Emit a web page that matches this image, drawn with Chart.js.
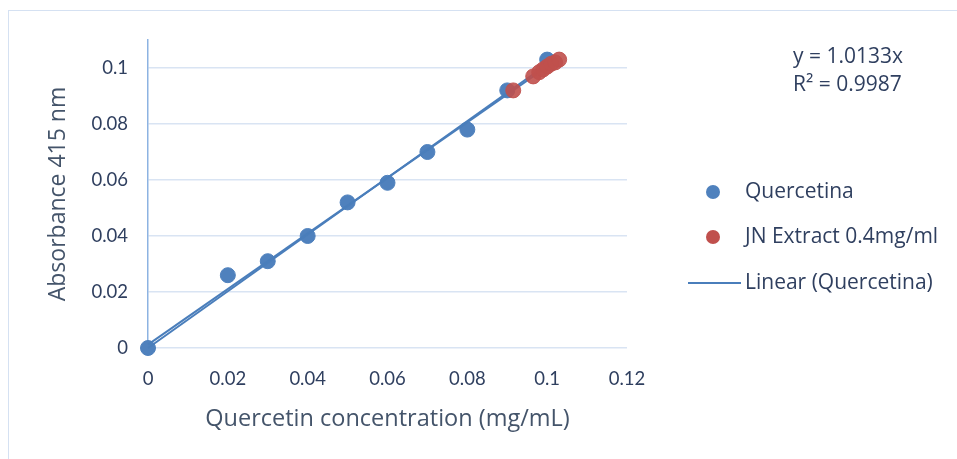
<!DOCTYPE html>
<html>
<head>
<meta charset="utf-8">
<script src="https://cdn.jsdelivr.net/npm/chart.js@4.4.1/dist/chart.umd.min.js"></script>
<style>
  html, body { margin: 0; padding: 0; background: #fff; }
  #wrap { width: 957px; height: 459px; }
</style>
</head>
<body>
<div id="wrap"><canvas id="chart" width="957" height="459"></canvas></div>
<script>
// Quercetina standard curve
var querX = [0, 0.02, 0.03, 0.04, 0.05, 0.06, 0.07, 0.08, 0.09, 0.1];
var querY = [0, 0.026, 0.031, 0.040, 0.052, 0.059, 0.070, 0.078, 0.092, 0.103];
// JN extract samples
var extX = [0.0915, 0.0965, 0.098, 0.099, 0.1, 0.101, 0.102, 0.103];
var extY = [0.092, 0.097, 0.0985, 0.0995, 0.1005, 0.1015, 0.102, 0.103];
// trendline y = 1.0133x over the standard's x range
var slope = 1.0133;
var trendX = [0, 0.1];
// second (unlabelled) fitted line
var line2X = [0, 0.1];
var line2Y = [0.0012, 0.1005];
var xTicks = [0, 0.02, 0.04, 0.06, 0.08, 0.1, 0.12];
var yTicks = [0, 0.02, 0.04, 0.06, 0.08, 0.1];

var textCol = "#2f3f5f";
var FONT = "Lato, 'Open Sans', sans-serif";
var TFONT = "'Open Sans', Lato, sans-serif";

function pts(xs, ys) {
  return xs.map(function (x, i) { return { x: x, y: ys[i] }; });
}

var decor = {
  id: "decor",
  beforeDraw: function (chart) {
    var c = chart.ctx;
    c.save();
    c.strokeStyle = "#d5e1f2";
    c.lineWidth = 1;
    c.strokeRect(8.5, 10.5, 1000, 500);
    c.restore();
  },
  afterDraw: function (chart) {
    var c = chart.ctx;
    c.save();
    c.fillStyle = textCol;
    c.textBaseline = "middle";
    c.textAlign = "left";
    c.font = "21px " + TFONT;
    c.fillText("y = 1.0133x", 793, 57);
    c.fillText("R² = 0.9987", 793, 85);

    // legend
    c.font = "21px " + TFONT;
    var items = [
      { t: "Quercetina", col: "#4f81bd", y: 192 },
      { t: "JN Extract 0.4mg/ml", col: "#c0504d", y: 237 }
    ];
    items.forEach(function (it) {
      c.beginPath();
      c.fillStyle = it.col;
      c.arc(713, it.y, 7, 0, Math.PI * 2);
      c.fill();
      c.fillStyle = textCol;
      c.fillText(it.t, 745, it.y);
    });
    c.strokeStyle = "#4a7ebb";
    c.lineWidth = 2;
    c.beginPath();
    c.moveTo(688, 283);
    c.lineTo(741, 283);
    c.stroke();
    c.fillText("Linear (Quercetina)", 745, 283);
    c.restore();
  }
};

new Chart(document.getElementById("chart"), {
  type: "scatter",
  data: {
    datasets: [
      {
        label: "JN Extract 0.4mg/ml",
        data: pts(extX, extY),
        backgroundColor: "rgba(192,80,77,0.9)",
        borderColor: "rgba(192,80,77,0.9)",
        pointRadius: 7.5,
        clip: false,
        order: 0
      },
      {
        label: "Linear (Quercetina)",
        data: pts(trendX, trendX.map(function (x) { return slope * x; })),
        showLine: true,
        borderColor: "#4a7ebb",
        borderWidth: 2,
        pointRadius: 0,
        clip: false,
        order: 1
      },
      {
        label: "line2",
        data: pts(line2X, line2Y),
        showLine: true,
        borderColor: "#4a7ebb",
        borderWidth: 2,
        pointRadius: 0,
        clip: false,
        order: 1
      },
      {
        label: "Quercetina",
        data: pts(querX, querY),
        backgroundColor: "#4f81bd",
        borderColor: "#4f81bd",
        pointRadius: 7.5,
        clip: false,
        order: 2
      }
    ]
  },
  options: {
    responsive: false,
    animation: false,
    layout: { padding: { left: 0, right: 330, top: 40, bottom: 25 } },
    plugins: { legend: { display: false }, tooltip: { enabled: false } },
    scales: {
      x: {
        type: "linear",
        min: 0,
        max: 0.12,
        afterFit: function (s) { s.height = 86; },
        afterBuildTicks: function (s) {
          s.ticks = xTicks.map(function (v) { return { value: v }; });
        },
        grid: { display: false, drawTicks: false },
        border: { display: false },
        ticks: {
          padding: 20,
          color: textCol,
          font: { family: FONT, size: 18.5 },
          callback: function (v) { return String(+v.toFixed(2)); }
        },
        title: {
          display: true,
          text: "Quercetin concentration (mg/mL)",
          color: "#44546a",
          font: { family: TFONT, size: 23.5 },
          padding: { top: 4, bottom: 1 }
        }
      },
      y: {
        type: "linear",
        min: 0,
        max: 0.11,
        afterFit: function (s) { s.width = 148; },
        afterBuildTicks: function (s) {
          s.ticks = yTicks.map(function (v) { return { value: v }; });
        },
        grid: { color: "#d9e4f3", lineWidth: 1.5, drawTicks: false },
        border: { display: true, color: "#8db3e2", width: 1.5 },
        ticks: {
          padding: 20,
          color: textCol,
          font: { family: FONT, size: 18.5 },
          callback: function (v) { return String(+v.toFixed(2)); }
        },
        title: {
          display: true,
          text: "Absorbance 415 nm",
          color: "#44546a",
          font: { family: TFONT, size: 23 },
          padding: { top: 45, bottom: 0 }
        }
      }
    }
  },
  plugins: [decor]
});
</script>
</body>
</html>
